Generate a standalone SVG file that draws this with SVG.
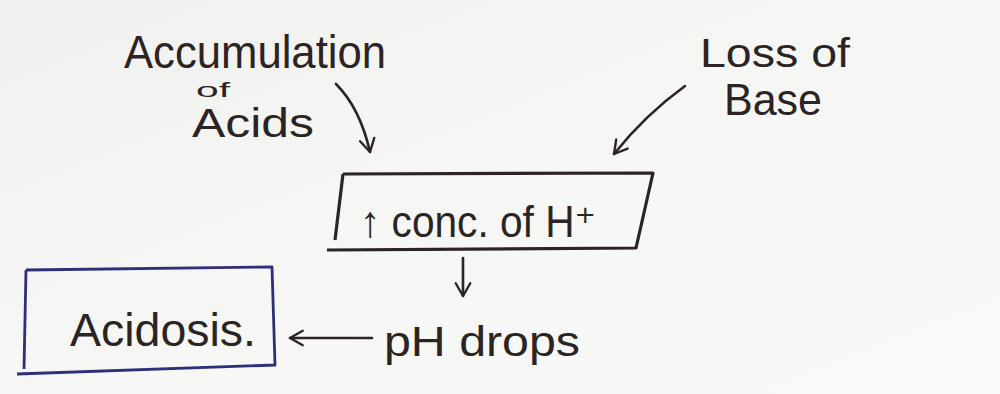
<svg xmlns="http://www.w3.org/2000/svg" width="1000" height="394" viewBox="0 0 1000 394">
  <defs>
    <linearGradient id="paper" x1="0" y1="0" x2="1" y2="1">
      <stop offset="0" stop-color="#f0f0ee"/>
      <stop offset="0.45" stop-color="#f6f6f5"/>
      <stop offset="1" stop-color="#f9f9f9"/>
    </linearGradient>
    <marker id="head" viewBox="0 0 20 20" refX="16" refY="10" markerWidth="7" markerHeight="7" markerUnits="strokeWidth" orient="auto">
      <path d="M2,2 L16,10 L2,18" fill="none" stroke="#2b2422" stroke-width="2.6" stroke-linecap="round" stroke-linejoin="round"/>
    </marker>
    <style>
      .ink { font-family: "Liberation Sans", "DejaVu Sans", sans-serif; fill: #2b2422; }
      .line { fill: none; stroke: #2b2422; stroke-width: 2.6; stroke-linecap: round; stroke-linejoin: round; }
      .box { fill: none; stroke: #2b2422; stroke-width: 3.2; stroke-linejoin: round; }
      .bluebox { fill: none; stroke: #2d2f78; stroke-width: 2.8; stroke-linejoin: round; }
    </style>
  </defs>

  <rect width="1000" height="394" fill="url(#paper)"/>

  <!-- source: accumulation of acids -->
  <g id="acids">
    <text class="ink" x="124" y="68" font-size="46" textLength="262" lengthAdjust="spacingAndGlyphs">Accumulation</text>
    <text class="ink" x="196" y="97" font-size="21" textLength="34" lengthAdjust="spacingAndGlyphs">of</text>
    <text class="ink" x="192" y="137" font-size="40" textLength="122" lengthAdjust="spacingAndGlyphs">Acids</text>
  </g>

  <!-- source: loss of base -->
  <g id="base">
    <text class="ink" x="700" y="67" font-size="40" textLength="150" lengthAdjust="spacingAndGlyphs">Loss of</text>
    <text class="ink" x="724" y="115" font-size="44" textLength="98" lengthAdjust="spacingAndGlyphs">Base</text>
  </g>

  <!-- central effect -->
  <g id="conc">
    <path class="box" d="M343,174 L653,173 L636,248 L327,250 M343,174 L335,240"/>
    <text class="ink" x="360" y="237" font-size="44" textLength="236" lengthAdjust="spacingAndGlyphs">↑ conc. of H⁺</text>
  </g>

  <!-- pH drops -->
  <g id="ph">
    <text class="ink" x="384" y="356" font-size="42" textLength="196" lengthAdjust="spacingAndGlyphs">pH drops</text>
  </g>

  <!-- result -->
  <g id="acidosis">
    <path class="bluebox" d="M26,270 L272,267 L275,365 L17,374 M26,270 L24,369"/>
    <text class="ink" x="70" y="346" font-size="46" textLength="186" lengthAdjust="spacingAndGlyphs">Acidosis.</text>
  </g>

  <g id="connectors">
    <path class="line" d="M336,84 Q360,108 370,152" marker-end="url(#head)"/>
    <path class="line" d="M685,86 Q645,115 614,154" marker-end="url(#head)"/>
    <path class="line" d="M463,258 L463,296" marker-end="url(#head)"/>
    <path class="line" d="M372,338 L290,338" marker-end="url(#head)"/>
  </g>
</svg>
